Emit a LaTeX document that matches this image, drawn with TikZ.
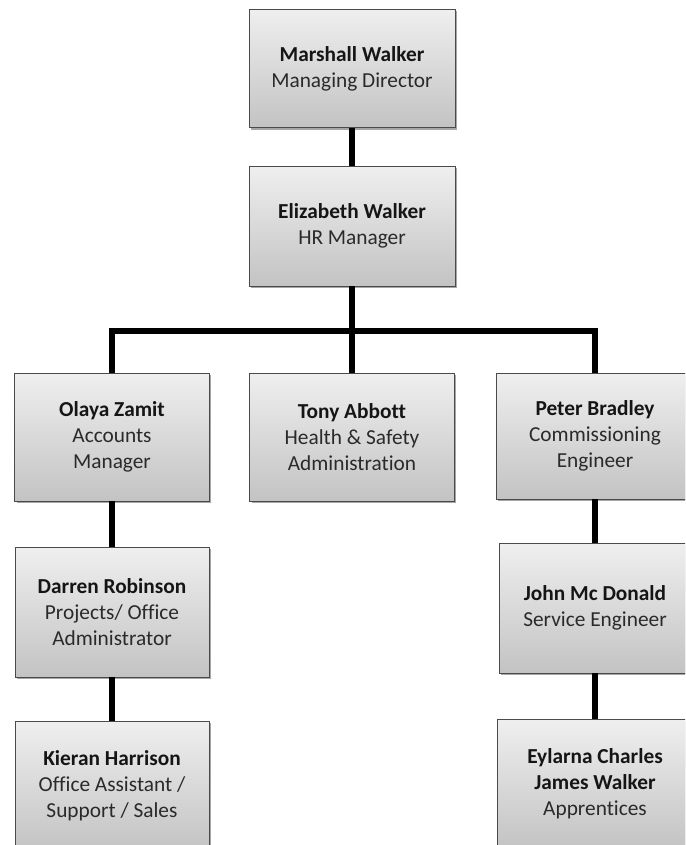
\documentclass[tikz,border=0pt]{standalone}
\usepackage{fontspec}
\setmainfont{Carlito}[Ligatures=NoCommon]
\usetikzlibrary{shadows}
\definecolor{boxtop}{HTML}{EFEFEF}
\definecolor{boxbot}{HTML}{C3C3C3}
\definecolor{boxline}{HTML}{4A4A4A}
\definecolor{nametext}{HTML}{151515}
\definecolor{roletext}{HTML}{2A2A2A}
\newcommand{\nm}[1]{{\bfseries\color{nametext}#1}}
\tikzset{
  orgbox/.style={draw=boxline, line width=0.7pt, top color=boxtop, bottom color=boxbot,
    align=center, inner sep=2pt, text=roletext,
    font=\fontsize{16}{19.5}\selectfont,
    drop shadow={shadow xshift=1.6pt, shadow yshift=-1.6pt, opacity=0.35, fill=black}},
  conn/.style={line width=3.8pt, black, line join=miter, line cap=butt}
}
\begin{document}
\begin{tikzpicture}[x=0.75pt, y=-0.75pt]
\path[use as bounding box] (0,0) rectangle (685,845);
\begin{scope}
\clip (0,0) rectangle (685,845);
\coordinate (bus) at (352,331);
\node[orgbox, minimum width=154.5pt, minimum height=89pt] (mw) at (352,68.5) {\nm{Marshall Walker}\\Managing Director};
\node[orgbox, minimum width=154.5pt, minimum height=90pt] (ew) at (352,226) {\nm{Elizabeth Walker}\\HR Manager};
\node[orgbox, minimum width=146pt, minimum height=96pt] (oz) at (112,437) {\nm{Olaya Zamit}\\Accounts\\Manager};
\node[orgbox, minimum width=153.5pt, minimum height=96pt] (ta) at (352,437) {\nm{Tony Abbott}\\Health \& Safety\\Administration};
\node[orgbox, minimum width=148.5pt, minimum height=94.5pt] (pb) at (595,436) {\nm{Peter Bradley}\\Commissioning\\Engineer};
\node[orgbox, minimum width=145.5pt, minimum height=97.5pt] (dr) at (112,612) {\nm{Darren Robinson}\\Projects/ Office\\Administrator};
\node[orgbox, minimum width=144pt, minimum height=97.5pt] (jm) at (595,608) {\nm{John Mc Donald}\\Service Engineer};
\node[orgbox, minimum width=145.5pt, minimum height=97.5pt] (kh) at (112,786) {\nm{Kieran Harrison}\\Office Assistant /\\Support / Sales};
\node[orgbox, minimum width=147pt, minimum height=97.5pt] (ej) at (595,784) {\nm{Eylarna Charles}\\\nm{James Walker}\\Apprentices};
\draw[conn] (mw.south) -- (ew.north);
\draw[conn] (ew.south) -- (ta.north);
\draw[conn] (oz.north) -- (oz.north |- bus) -- (pb.north |- bus) -- (pb.north);
\draw[conn] (oz.south) -- (dr.north);
\draw[conn] (dr.south) -- (kh.north);
\draw[conn] (pb.south) -- (jm.north);
\draw[conn] (jm.south) -- (ej.north);
\end{scope}
\end{tikzpicture}
\end{document}
